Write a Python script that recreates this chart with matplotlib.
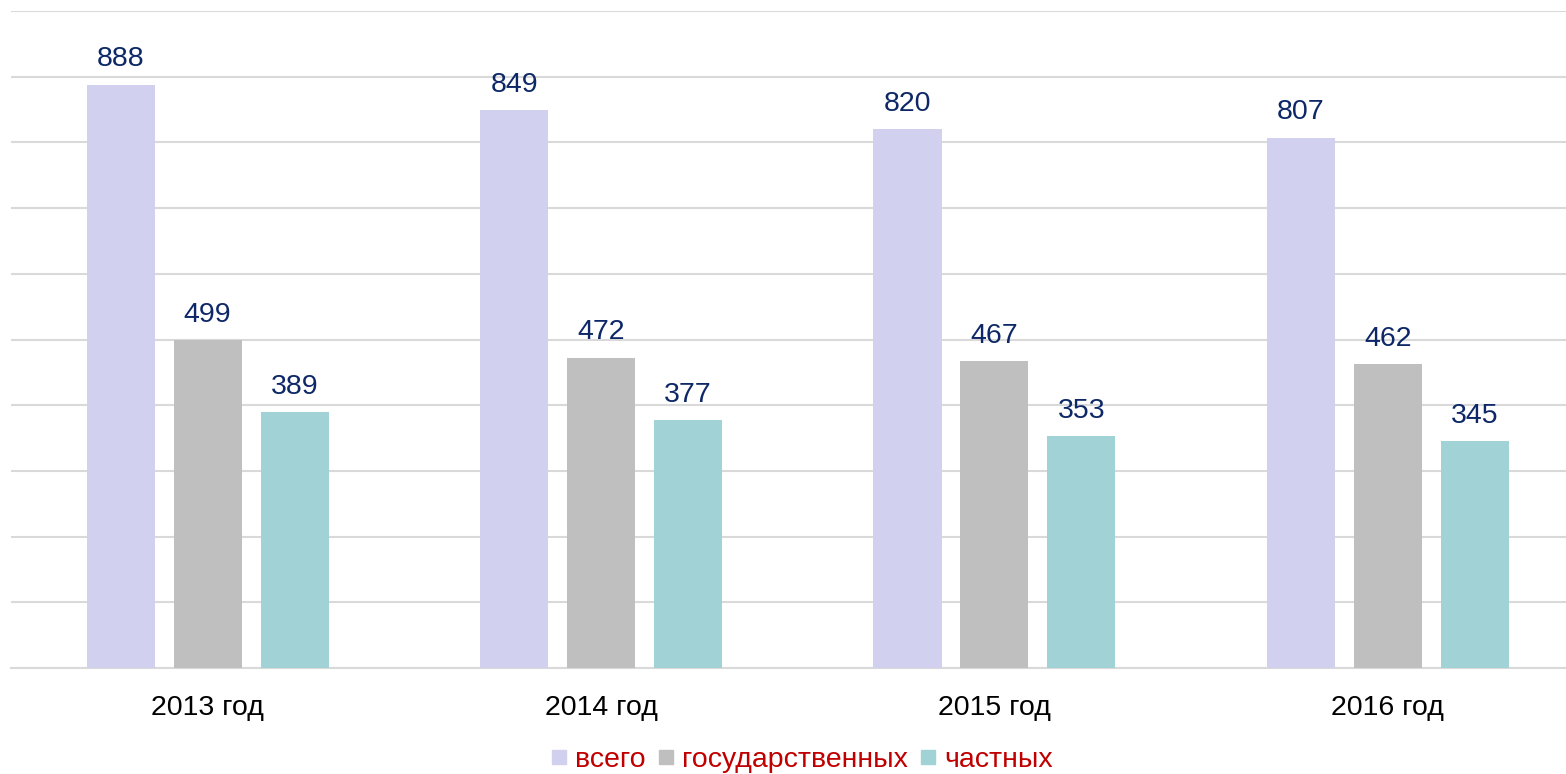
import matplotlib
matplotlib.use("Agg")
import matplotlib.pyplot as plt
from matplotlib.lines import Line2D
import numpy as np

plt.rcParams['font.family'] = ['Liberation Sans', 'DejaVu Sans']

# data
years = ["2013 год", "2014 год", "2015 год", "2016 год"]
series_names = ["всего", "государственных", "частных"]
total = [888, 849, 820, 807]
state = [499, 472, 467, 462]
private = [389, 377, 353, 345]
colors = ["#D1D1EF", "#BFBFBF", "#A1D3D6"]

fig = plt.figure(figsize=(15.66, 7.74), dpi=100)
ax = fig.add_axes([11 / 1566, 1 - 668 / 774, 1 - 11 / 1566, (668 - 11) / 774])

x = np.arange(len(years))
w = 0.173
step = 0.221
for i, vals in enumerate([total, state, private]):
    bars = ax.bar(x + (i - 1) * step, vals, width=w, color=colors[i], zorder=3)
    for b, v in zip(bars, vals):
        ax.annotate(str(v), (b.get_x() + b.get_width() / 2, v),
                    xytext=(0, 9), textcoords="offset points",
                    ha="center", va="bottom", fontsize=20.5, color="#0D2767")

ax.set_xlim(-0.5, 3.453)
ax.set_ylim(0, 1000)
ax.set_yticks(np.arange(0, 1001, 100))
ax.yaxis.grid(True, color="#D9D9D9", linewidth=1.5, zorder=0)
ax.tick_params(axis="y", left=False, labelleft=False)
ax.tick_params(axis="x", bottom=False, pad=16, labelsize=20.5)
ax.set_xticks(x)
ax.set_xticklabels(years)
for s in ["top", "right", "left"]:
    ax.spines[s].set_visible(False)
ax.spines["bottom"].set_color("#D9D9D9")
ax.spines["bottom"].set_linewidth(1.5)

handles = [Line2D([], [], marker="s", linestyle="none", markersize=10.5,
                  markerfacecolor=c, markeredgecolor=c) for c in colors]
leg = fig.legend(handles, series_names, loc="center", bbox_to_anchor=(802 / 1566, 1 - 760 / 774),
                 ncol=3, frameon=False, fontsize=20.5, handlelength=0.55,
                 handletextpad=0.3, columnspacing=0.42)
for t in leg.get_texts():
    t.set_color("#C00000")

fig.savefig("out.png", dpi=100)
